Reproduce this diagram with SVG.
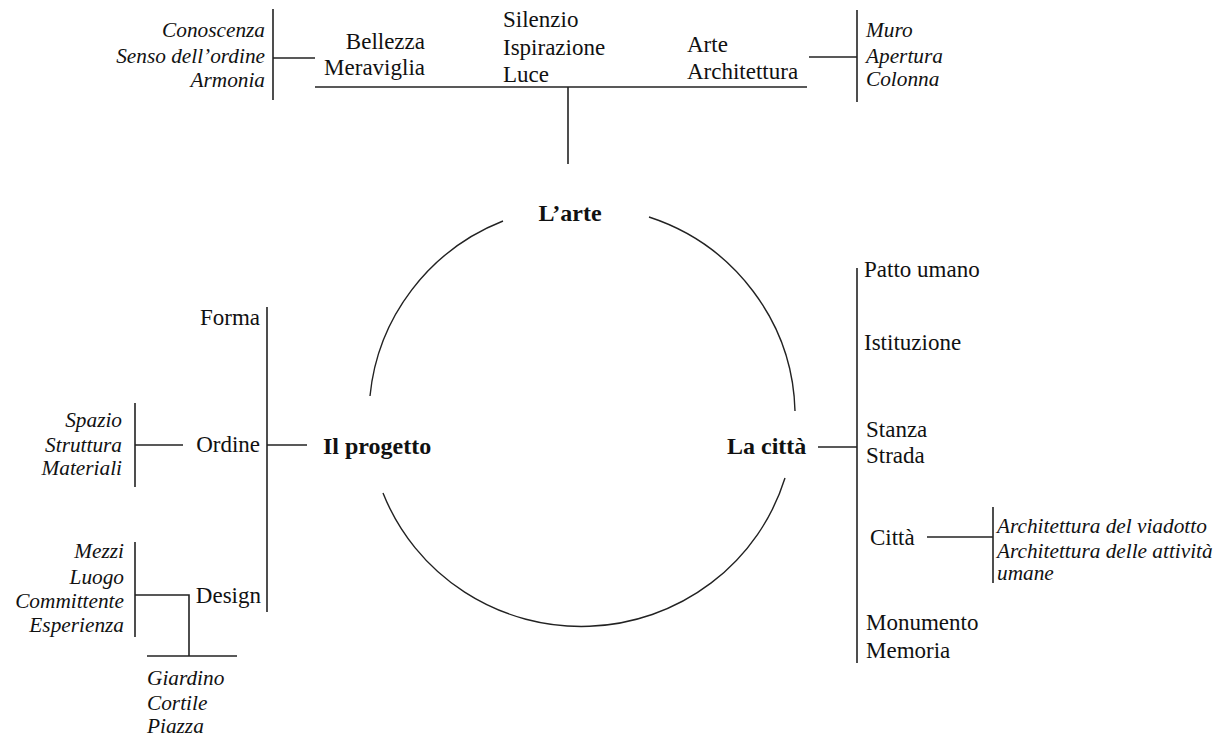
<svg xmlns="http://www.w3.org/2000/svg" width="1213" height="741" viewBox="0 0 1213 741">
<style>
  text { font-family: "Liberation Serif", "Times New Roman", serif; fill: #111; }
  .r { font-size: 23px; }
  .i { font-size: 21.3px; font-style: italic; }
  .b { font-size: 24px; font-weight: bold; }
  .e { text-anchor: end; }
  .m { text-anchor: middle; }
  .ln { stroke: #222; stroke-width: 1.6; fill: none; }
  .arc { stroke: #222; stroke-width: 1.4; fill: none; }
</style>
<rect width="1213" height="741" fill="#fff"/>

<g id="connectors">
  <path class="arc" d="M 503 221 A 213 210 0 0 0 370 396"/>
  <path class="arc" d="M 383 493 A 213 210 0 0 0 785 478"/>
  <path class="arc" d="M 795 411 A 213 210 0 0 0 649 217"/>
  <line class="ln" x1="568" y1="87" x2="568" y2="164"/>
  <line class="ln" x1="315" y1="87" x2="807" y2="87"/>
  <line class="ln" x1="273" y1="9" x2="273" y2="100"/>
  <line class="ln" x1="273" y1="58" x2="315" y2="58"/>
  <line class="ln" x1="809" y1="57" x2="857" y2="57"/>
  <line class="ln" x1="857" y1="10" x2="857" y2="102"/>
  <line class="ln" x1="267" y1="445" x2="307" y2="445"/>
  <line class="ln" x1="267" y1="307" x2="267" y2="612"/>
  <line class="ln" x1="135" y1="445" x2="183" y2="445"/>
  <line class="ln" x1="135" y1="403" x2="135" y2="487"/>
  <line class="ln" x1="135" y1="542" x2="135" y2="637"/>
  <polyline class="ln" points="135,595 189,595 189,656"/>
  <line class="ln" x1="147" y1="656" x2="237" y2="656"/>
  <line class="ln" x1="818" y1="447" x2="857" y2="447"/>
  <line class="ln" x1="857" y1="268" x2="857" y2="663"/>
  <line class="ln" x1="927" y1="537" x2="993" y2="537"/>
  <line class="ln" x1="993" y1="507" x2="993" y2="583"/>
</g>

<g id="node-arte">
  <text class="b m" x="570" y="221">L’arte</text>
</g>
<g id="node-progetto">
  <text class="b" x="323" y="454">Il progetto</text>
</g>
<g id="node-citta">
  <text class="b" x="727" y="454">La città</text>
</g>

<g id="node-conoscenza">
  <text class="i e" x="265" y="37">Conoscenza</text>
  <text class="i e" x="265" y="63">Senso dell’ordine</text>
  <text class="i e" x="265" y="87">Armonia</text>
</g>
<g id="node-bellezza">
  <text class="r e" x="425" y="49">Bellezza</text>
  <text class="r e" x="425" y="75">Meraviglia</text>
</g>
<g id="node-silenzio">
  <text class="r" x="503" y="27">Silenzio</text>
  <text class="r" x="503" y="55">Ispirazione</text>
  <text class="r" x="503" y="82">Luce</text>
</g>
<g id="node-arte-arch">
  <text class="r" x="687" y="52">Arte</text>
  <text class="r" x="687" y="79">Architettura</text>
</g>
<g id="node-muro">
  <text class="i" x="866" y="37">Muro</text>
  <text class="i" x="866" y="63">Apertura</text>
  <text class="i" x="866" y="86">Colonna</text>
</g>

<g id="node-forma">
  <text class="r e" x="260" y="325">Forma</text>
</g>
<g id="node-ordine">
  <text class="r e" x="260" y="452">Ordine</text>
</g>
<g id="node-design">
  <text class="r e" x="261" y="603">Design</text>
</g>
<g id="node-spazio">
  <text class="i e" x="122" y="427">Spazio</text>
  <text class="i e" x="122" y="452">Struttura</text>
  <text class="i e" x="122" y="475">Materiali</text>
</g>
<g id="node-mezzi">
  <text class="i e" x="124" y="558">Mezzi</text>
  <text class="i e" x="124" y="584">Luogo</text>
  <text class="i e" x="124" y="608">Committente</text>
  <text class="i e" x="124" y="632">Esperienza</text>
</g>
<g id="node-giardino">
  <text class="i" x="147" y="685">Giardino</text>
  <text class="i" x="147" y="710">Cortile</text>
  <text class="i" x="147" y="733">Piazza</text>
</g>

<g id="node-patto">
  <text class="r" x="864" y="277">Patto umano</text>
</g>
<g id="node-istituzione">
  <text class="r" x="864" y="350">Istituzione</text>
</g>
<g id="node-stanza">
  <text class="r" x="866" y="437">Stanza</text>
  <text class="r" x="866" y="463">Strada</text>
</g>
<g id="node-citta-sub">
  <text class="r" x="870" y="545">Città</text>
</g>
<g id="node-architettura">
  <text class="i" x="997" y="533">Architettura del viadotto</text>
  <text class="i" x="997" y="558">Architettura delle attività</text>
  <text class="i" x="997" y="580">umane</text>
</g>
<g id="node-monumento">
  <text class="r" x="866" y="630">Monumento</text>
  <text class="r" x="866" y="658">Memoria</text>
</g>
</svg>
